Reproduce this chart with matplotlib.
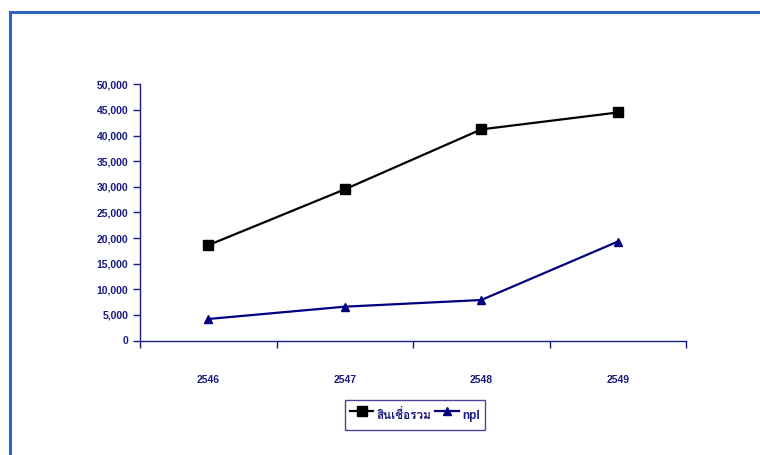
import matplotlib

matplotlib.use("Agg")
import matplotlib.pyplot as plt
from matplotlib import font_manager
from matplotlib.patches import Rectangle

NAVY = "#1a1a80"
BORDER = "#2b67c2"

years = ["2546", "2547", "2548", "2549"]
loans = [18600, 29500, 41200, 44500]
npl = [4200, 6600, 7900, 19300]
yticks = [0, 5000, 10000, 15000, 20000, 25000, 30000, 35000, 40000, 45000, 50000]
series_names = ["สินเชื่อรวม", "npl"]


def thai_font():
    # pick any installed font with Thai glyphs, else fall back
    try:
        from fontTools.ttLib import TTFont
    except ImportError:
        return None
    for f in font_manager.fontManager.ttflist:
        try:
            cmap = TTFont(f.fname, fontNumber=0, lazy=True).getBestCmap()
        except Exception:
            continue
        if cmap and 0x0E2A in cmap and 0x0E48 in cmap:
            return f.name
    return None


th = thai_font()
fams = ["Liberation Sans", "DejaVu Sans"]
if th:
    fams = ["Liberation Sans", th, "DejaVu Sans"]
plt.rcParams["font.family"] = fams

fig = plt.figure(figsize=(7.6, 4.55), dpi=100)
fig.patches.append(Rectangle((10 / 760, -0.1), 1.2, 1 - 12 / 455 + 0.1,
                             transform=fig.transFigure, fill=False,
                             edgecolor=BORDER, linewidth=2.2))

ax = fig.add_axes([140 / 760, 1 - 340.5 / 455, 546 / 760, 256.2 / 455])
x = list(range(len(years)))
l1, = ax.plot(x, loans, color="black", linewidth=1.6, marker="s", markersize=7,
              label=series_names[0])
l2, = ax.plot(x, npl, color="#000080", linewidth=1.6, marker="^", markersize=6,
              label=series_names[1])

ax.set_xlim(-0.5, len(years) - 0.5)
ax.set_ylim(0, 50000)
ax.set_yticks(yticks)
ax.set_yticklabels(["{:,}".format(v) for v in yticks])
ax.set_xticks([i - 0.5 for i in range(len(years) + 1)])
ax.set_xticklabels([])
ax.set_xticks(x, minor=True)
ax.set_xticklabels(years, minor=True)

for s in ("top", "right"):
    ax.spines[s].set_visible(False)
for s in ("left", "bottom"):
    ax.spines[s].set_color(NAVY)
    ax.spines[s].set_linewidth(1.0)
ax.tick_params(axis="y", colors=NAVY, length=5, width=1, labelsize=7.5)
ax.tick_params(axis="x", which="major", colors=NAVY, length=5, width=1)
ax.tick_params(axis="x", which="minor", length=0, pad=25, labelsize=7.5,
               labelcolor=NAVY)
for lab in ax.get_yticklabels() + ax.get_xticklabels(minor=True):
    lab.set_fontweight("bold")

leg = fig.legend(handles=[l1, l2], loc="center", ncol=2,
                 bbox_to_anchor=(415 / 760, 1 - 415 / 455), fontsize=8.5,
                 frameon=True, fancybox=False, handlelength=2.0,
                 handleheight=2.4, handletextpad=0.3, columnspacing=0.3,
                 borderpad=0.4)
leg.get_frame().set_edgecolor(NAVY)
leg.get_frame().set_linewidth(1.0)
for t in leg.get_texts():
    t.set_color(NAVY)
    t.set_fontweight("bold")

fig.savefig("out.png", dpi=100)
